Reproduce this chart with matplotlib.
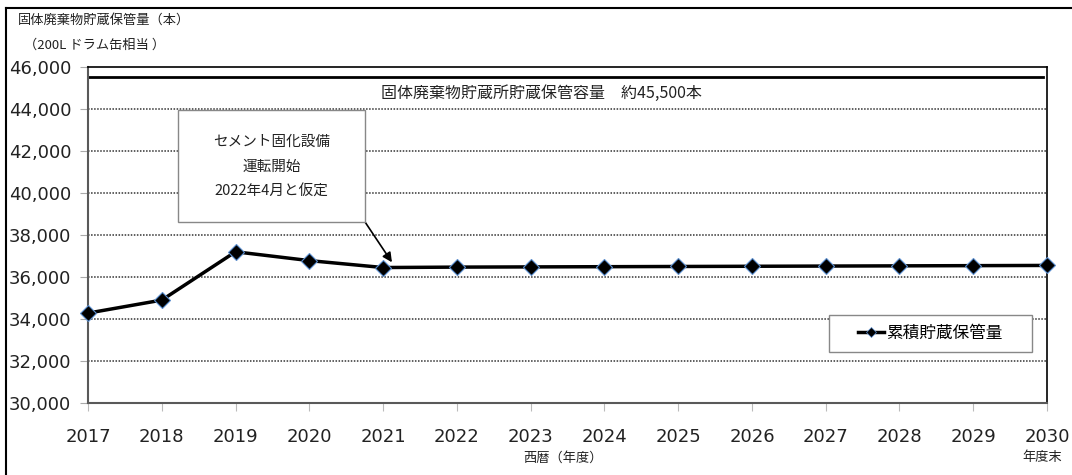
import matplotlib
matplotlib.use("Agg")
import matplotlib.pyplot as plt
from matplotlib.lines import Line2D
from matplotlib.patches import Rectangle

plt.rcParams['font.family'] = ['DejaVu Sans', 'Noto Sans CJK JP']
JP = ['Noto Sans CJK JP', 'DejaVu Sans']

# 年度末ごとの累積貯蔵保管量（200Lドラム缶相当）
years = [2017, 2018, 2019, 2020, 2021, 2022, 2023, 2024, 2025, 2026, 2027, 2028, 2029, 2030]
stock = [34280, 34900, 37200, 36780, 36450, 36470, 36480, 36490, 36500, 36510, 36520, 36530, 36540, 36550]
capacity = 45500
yticks = [30000, 32000, 34000, 36000, 38000, 40000, 42000, 44000, 46000]

fig = plt.figure(figsize=(10.72, 4.75), dpi=100)
ax = fig.add_axes([0.0821, 0.1516, 0.8946, 0.7074])

# 格子線
for v in yticks[1:-1]:
    ax.axhline(v, color='#333333', lw=1.1, ls=(0, (1, 1)), zorder=1)

# 貯蔵容量の線
ax.plot([years[0], years[-1] - 0.05], [capacity, capacity], color='black', lw=2.0, zorder=2)
ax.text(2023.14, 44720, '固体廃棄物貯蔵所貯蔵保管容量　約45,500本',
        ha='center', va='center', fontsize=11.5, family=JP, color='#222222')

# 累積貯蔵保管量
ax.plot(years, stock, color='black', lw=2.5, marker='D', ms=8,
        mfc='black', mec='#5b8fd0', mew=0.8, zorder=4, clip_on=False)

ax.set_xlim(2017, 2030)
ax.set_ylim(30000, 46000)
ax.set_xticks(years)
ax.set_yticks(yticks)
ax.set_yticklabels([f'{v:,}' for v in yticks])
ax.tick_params(axis='y', labelsize=13, length=6, color='#aaaaaa', pad=6, labelcolor='#222222')
ax.tick_params(axis='x', labelsize=13, length=6, color='#bbbbbb', pad=12, labelcolor='#222222')

for s in ['left', 'bottom']:
    ax.spines[s].set_color('#595959')
    ax.spines[s].set_linewidth(1.5)
for s in ['top', 'right']:
    ax.spines[s].set_color('black')
    ax.spines[s].set_linewidth(1.2)

# 注記ボックス
ax.add_patch(Rectangle((2018.22, 38620), 2.535, 5330, fc='white', ec='#888888',
                       lw=1.0, zorder=5))
ax.text(2019.49, 41250, 'セメント固化設備\n運転開始\n2022年4月と仮定',
        ha='center', va='center', fontsize=10.5, family=JP, color='#222222',
        linespacing=1.95, zorder=6)
ax.annotate('', xy=(2021.12, 36700), xytext=(2020.755, 38620),
            arrowprops=dict(arrowstyle='-|>', color='black', lw=1.2, mutation_scale=14,
                            shrinkA=0, shrinkB=0))

# 凡例
ax.add_patch(Rectangle((0.773, 0.152), 0.211, 0.110, transform=ax.transAxes,
                       fc='white', ec='#888888', lw=1.0, zorder=5))
h = Line2D([], [], color='black', lw=2.5, marker='D', ms=5, mfc='black', mec='#5b8fd0', mew=0.5)
leg = ax.legend([h], ['累積貯蔵保管量'], loc='center', bbox_to_anchor=(0.878, 0.207),
                frameon=False, handlelength=1.6, handletextpad=0.1,
                prop={'family': JP, 'size': 12})
leg.set_zorder(6)

# 軸ラベルなど
fig.text(0.017, 0.958, '固体廃棄物貯蔵保管量（本）', fontsize=9.5, family=JP,
         color='#222222', va='center')
fig.text(0.022, 0.905, '（200L ドラム缶相当 ）', fontsize=9.5, family=JP,
         color='#222222', va='center')
fig.text(0.525, 0.035, '西暦（年度）', fontsize=9.5, family=JP, color='#222222',
         ha='center', va='center')
fig.text(0.972, 0.037, '年度末', fontsize=9.5, family=JP, color='#222222',
         ha='center', va='center')

# 外枠（上と左）
fig.add_artist(Line2D([0.0056, 1.0], [0.983, 0.983], transform=fig.transFigure, color='black', lw=1.5))
fig.add_artist(Line2D([0.0056, 0.0056], [0.0, 0.983], transform=fig.transFigure, color='black', lw=1.5))

fig.savefig('out.png', dpi=100, facecolor='white')
